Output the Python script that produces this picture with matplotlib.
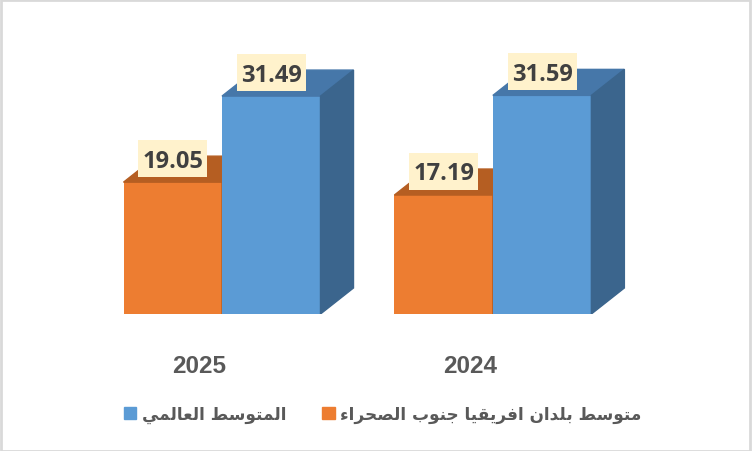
import matplotlib.pyplot as plt
from matplotlib.patches import Polygon, Patch, Rectangle

# data
years = ['2025', '2024']
ssa_avg = [19.05, 17.19]      # orange
world_avg = [31.49, 31.59]    # blue
ssa_name = 'متوسط بلدان افريقيا جنوب الصحراء'
world_name = 'المتوسط العالمي'

# --- tiny arabic shaper (no arabic_reshaper available) ---
FOUR = {'ئ': 0xFE89, 'ب': 0xFE8F, 'ت': 0xFE95, 'ث': 0xFE99, 'ج': 0xFE9D,
        'ح': 0xFEA1, 'خ': 0xFEA5, 'س': 0xFEB1, 'ش': 0xFEB5, 'ص': 0xFEB9,
        'ض': 0xFEBD, 'ط': 0xFEC1, 'ظ': 0xFEC5, 'ع': 0xFEC9, 'غ': 0xFECD,
        'ف': 0xFED1, 'ق': 0xFED5, 'ك': 0xFED9, 'ل': 0xFEDD, 'م': 0xFEE1,
        'ن': 0xFEE5, 'ه': 0xFEE9, 'ي': 0xFEF1}
TWO = {'آ': 0xFE81, 'أ': 0xFE83, 'ؤ': 0xFE85, 'إ': 0xFE87, 'ا': 0xFE8D,
       'ة': 0xFE93, 'د': 0xFEA9, 'ذ': 0xFEAB, 'ر': 0xFEAD, 'ز': 0xFEAF,
       'و': 0xFEED, 'ى': 0xFEEF}


def shape(txt):
    out = []
    for i, c in enumerate(txt):
        prev = txt[i - 1] if i > 0 else ''
        nxt = txt[i + 1] if i + 1 < len(txt) else ''
        jp = prev in FOUR and (c in FOUR or c in TWO)
        jn = c in FOUR and (nxt in FOUR or nxt in TWO)
        if c in FOUR:
            b = FOUR[c]
            code = b + (3 if jp and jn else 2 if jn else 1 if jp else 0)
            out.append(chr(code))
        elif c in TWO:
            out.append(chr(TWO[c] + (1 if jp else 0)))
        elif c == 'ء':
            out.append(chr(0xFE80))
        else:
            out.append(c)
    return ''.join(out)[::-1]


orange_front, orange_top = '#ED7D31', '#B55E22'
blue_front, blue_top, blue_side = '#5B9BD5', '#4677A9', '#3B658D'

bar_w = 1.0
spacing = 2.75
dx, dy = 0.335, 3.76   # 3d depth offset

fig = plt.figure(figsize=(7.52, 4.52), dpi=100)
ax = fig.add_axes([0, 137 / 452, 1, 315 / 452])
ax.set_xlim(-222 / 98.5, 530 / 98.5)
ax.set_ylim(0, 315 / 6.92)
for s in ax.spines.values():
    s.set_visible(False)


def bar3d(x0, h, front, top, side):
    ax.bar(x0, h, width=bar_w, align='edge', color=front, zorder=2)
    ax.add_patch(Polygon([(x0, h), (x0 + dx, h + dy), (x0 + bar_w + dx, h + dy),
                          (x0 + bar_w, h)], closed=True, color=top, zorder=2))
    ax.add_patch(Polygon([(x0 + bar_w, 0), (x0 + bar_w + dx, dy),
                          (x0 + bar_w + dx, h + dy), (x0 + bar_w, h)],
                         closed=True, color=side, zorder=2))


box_w, box_h = 0.70, 5.35
for i in range(len(years)):
    g = i * spacing
    bar3d(g - bar_w, ssa_avg[i], orange_front, orange_top, orange_top)
    bar3d(g, world_avg[i], blue_front, blue_top, blue_side)
    for xc, v in [(g - bar_w / 2, ssa_avg[i]), (g + bar_w / 2, world_avg[i])]:
        yc = v + 3.4
        ax.add_patch(Rectangle((xc - box_w / 2, yc - box_h / 2), box_w, box_h,
                               fc='#FFF2CC', ec='none', zorder=4))
        ax.text(xc, yc - 1.15, f'{v:.2f}', ha='center', va='baseline',
                fontsize=17, fontweight='bold', family='Open Sans', color='#404040',
                zorder=5)

ax.set_xticks([i * spacing - 0.234 for i in range(len(years))])
ax.set_xticklabels(years, fontsize=17.5, fontweight='bold', family='Liberation Sans',
                   color='#595959')
ax.tick_params(axis='x', length=0, pad=29)
ax.set_yticks([])

handles = [Patch(color=blue_front), Patch(color=orange_front)]
labels = [shape(world_name), shape(ssa_name)]
fig.legend(handles, labels, loc='center', bbox_to_anchor=(383 / 752, 1 - 415 / 452),
           ncol=2, frameon=False, handlelength=0.72, handleheight=0.72,
           handletextpad=0.35, columnspacing=2.1,
           prop=dict(family='DejaVu Sans', weight='bold', size=12.2))
for t in fig.legends[0].get_texts():
    t.set_color('#595959')

fig.add_artist(Rectangle((0.001, 0.001), 0.997, 0.996, transform=fig.transFigure,
                         fill=False, ec='#D9D9D9', lw=2))

fig.savefig('out.png', dpi=100)
